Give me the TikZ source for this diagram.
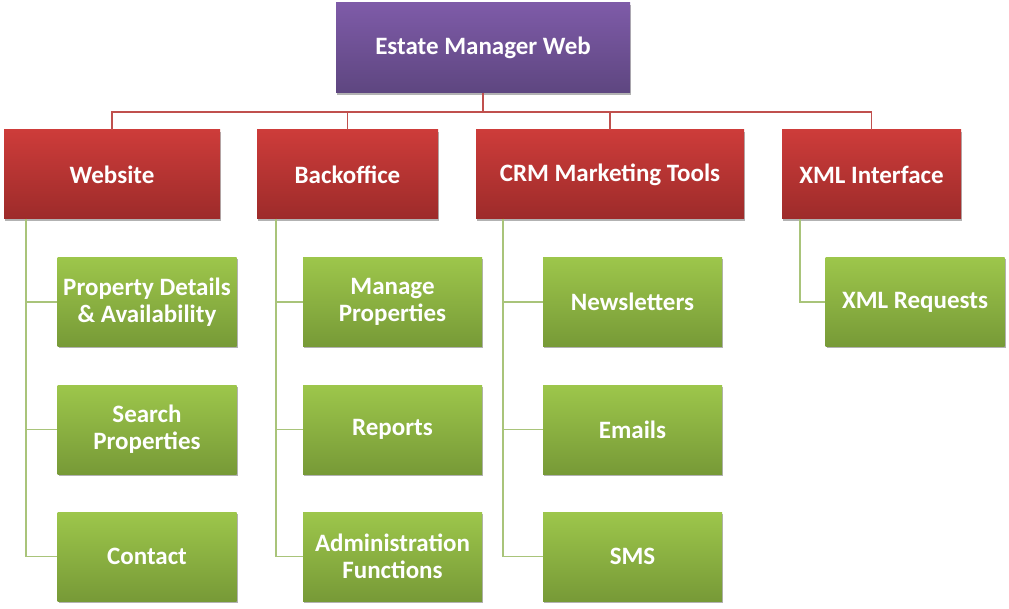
\documentclass[tikz,border=0pt]{standalone}
\usepackage{fontspec}
\setmainfont{Carlito}
\usetikzlibrary{shadows}
\definecolor{purpT}{HTML}{7E5BA8}
\definecolor{purpB}{HTML}{5E4680}
\definecolor{redT}{HTML}{CD3C3A}
\definecolor{redB}{HTML}{9D2B2A}
\definecolor{grnT}{HTML}{9DC64B}
\definecolor{grnB}{HTML}{779A37}
\definecolor{redLn}{HTML}{C0504D}
\definecolor{grnLn}{HTML}{A9C47A}
\tikzset{
  basebox/.style={rectangle, inner sep=0pt, text=white, align=center,
    font=\fontsize{25}{27}\selectfont\bfseries,
    drop shadow={shadow xshift=1pt, shadow yshift=-2pt, opacity=0.3, fill=black}},
  topbox/.style={basebox, top color=purpT, bottom color=purpB, minimum width=294pt, minimum height=90pt},
  catbox/.style={basebox, top color=redT, bottom color=redB, minimum height=89pt},
  leafbox/.style={basebox, top color=grnT, bottom color=grnB, minimum width=179pt, minimum height=89pt},
  redline/.style={draw=redLn, line width=1.3pt},
  grnline/.style={draw=grnLn, line width=1.3pt}
}
\begin{document}
\begin{tikzpicture}[x=1pt,y=-1pt]
\useasboundingbox (0,0) rectangle (1009,609);
% top
\node[topbox] (top) at (483,48) {Estate Manager Web};
% categories
\node[catbox, minimum width=216pt] (web) at (112,174.5) {Website};
\node[catbox, minimum width=181pt] (back) at (347.5,174.5) {Backoffice};
\node[catbox, minimum width=268pt] (crm) at (610,174.5) {CRM Marketing Tools};
\node[catbox, minimum width=179pt] (xml) at (871.5,174.5) {XML Interface};
% leaves
\node[leafbox] (w1) at (147,302) {Property Details\\\& Availability};
\node[leafbox] (w2) at (147,429.5) {Search\\Properties};
\node[leafbox] (w3) at (147,556.5) {Contact};
\node[leafbox] (b1) at (392.5,302) {Manage\\Properties};
\node[leafbox] (b2) at (392.5,429.5) {Reports};
\node[leafbox] (b3) at (392.5,556.5) {Administration\\Functions};
\node[leafbox] (c1) at (632.5,302) {Newsletters};
\node[leafbox] (c2) at (632.5,429.5) {Emails};
\node[leafbox] (c3) at (632.5,556.5) {SMS};
\node[leafbox] (x1) at (915,302) {XML Requests};
% red connectors
\coordinate (bus) at (483,112);
\draw[redline] (top.south) -- (bus);
\draw[redline] (web.north) -- (web.north |- bus) -- (xml.north |- bus) -- (xml.north);
\draw[redline] (back.north) -- (back.north |- bus);
\draw[redline] (crm.north) -- (crm.north |- bus);
% green connectors
\coordinate (wl) at (26,219);
\coordinate (bl) at (276,219);
\coordinate (cl) at (503,219);
\coordinate (xl) at (800,219);
\draw[grnline] (wl) |- (w1.west);
\draw[grnline] (wl) |- (w2.west);
\draw[grnline] (wl) |- (w3.west);
\draw[grnline] (bl) |- (b1.west);
\draw[grnline] (bl) |- (b2.west);
\draw[grnline] (bl) |- (b3.west);
\draw[grnline] (cl) |- (c1.west);
\draw[grnline] (cl) |- (c2.west);
\draw[grnline] (cl) |- (c3.west);
\draw[grnline] (xl) |- (x1.west);
\end{tikzpicture}
\end{document}
